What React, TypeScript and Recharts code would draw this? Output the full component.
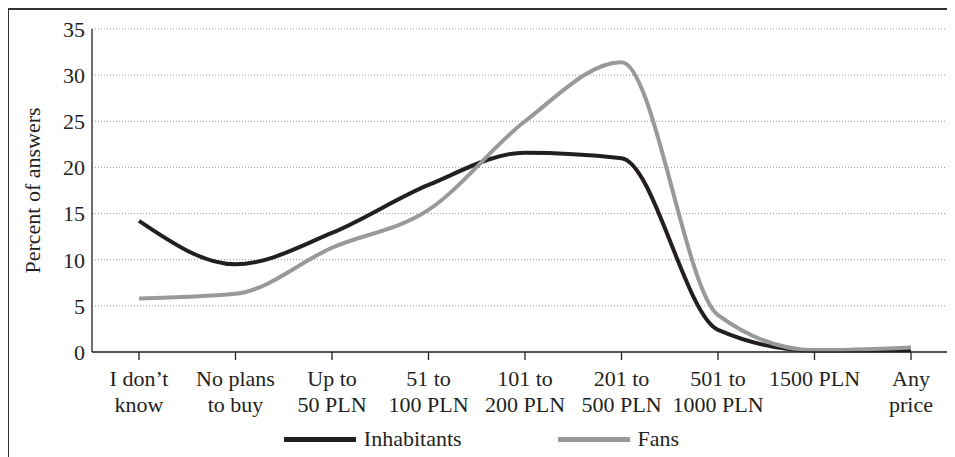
import { CartesianGrid, Legend, Line, LineChart, XAxis, YAxis } from "recharts";

// price categories (two-line labels split on \n)
const categories = [
  "I don’t\nknow",
  "No plans\nto buy",
  "Up to\n50 PLN",
  "51 to\n100 PLN",
  "101 to\n200 PLN",
  "201 to\n500 PLN",
  "501 to\n1000 PLN",
  "1500 PLN",
  "Any\nprice",
];
const inhabitants = [14.2, 9.5, 12.9, 18.1, 21.6, 21.0, 2.4, 0.15, 0.2];
const fans = [5.8, 6.3, 11.3, 15.4, 25.0, 31.4, 4.0, 0.2, 0.5];
const yTicks = [0, 5, 10, 15, 20, 25, 30, 35];

const data = categories.map((name, i) => ({ name, Inhabitants: inhabitants[i], Fans: fans[i] }));

const FONT = "Liberation Serif, DejaVu Serif, serif";

function XTick(props: any) {
  const { x, y, payload } = props;
  const lines = String(payload.value).split("\n");
  return (
    <text x={x} y={y + 24} textAnchor="middle" fill="#231f20" fontFamily={FONT} fontSize={22}>
      {lines.map((l, i) => (
        <tspan key={i} x={x} dy={i === 0 ? 0 : 26}>
          {l}
        </tspan>
      ))}
    </text>
  );
}

function LegendBox() {
  const item = (label: string, color: string, gap: number) => (
    <div style={{ display: "flex", alignItems: "center", marginRight: gap }}>
      <div style={{ width: 72, height: 5, background: color, marginRight: 8 }} />
      <span style={{ fontFamily: FONT, fontSize: 22, color: "#231f20" }}>{label}</span>
    </div>
  );
  return (
    <div style={{ display: "flex", justifyContent: "center", alignItems: "center" }}>
      {item("Inhabitants", "#231f20", 96)}
      {item("Fans", "#98999b", 0)}
    </div>
  );
}

export default function App() {
  return (
    <div style={{ position: "relative", width: 947, height: 449 }}>
      {/* frame: left and top edges only are visible in the picture */}
      <div style={{ position: "absolute", left: -1.5, top: -0.5, width: 2, height: 460, background: "#333" }} />
      <div style={{ position: "absolute", left: -1.5, top: -0.5, width: 960, height: 2, background: "#333" }} />
      <LineChart
        width={947}
        height={449}
        data={data}
        margin={{ top: 21, right: 0, bottom: 0, left: 0 }}
      >
        <CartesianGrid horizontal vertical={false} stroke="#999" strokeDasharray="1 2" />
        <XAxis
          dataKey="name"
          interval={0}
          height={70}
          padding={{ left: 47, right: 44 }}
          tick={<XTick />}
          tickSize={8}
          axisLine={{ stroke: "#231f20", strokeWidth: 1.3 }}
          tickLine={{ stroke: "#231f20", strokeWidth: 1.3 }}
        />
        <YAxis
          domain={[0, 35]}
          ticks={yTicks}
          width={84}
          tickLine={false}
          axisLine={{ stroke: "#231f20", strokeWidth: 1.3 }}
          tick={{ fill: "#231f20", fontFamily: FONT, fontSize: 22 }}
          tickMargin={1}
          label={{
            value: "Percent of answers",
            angle: -90,
            position: "insideLeft",
            offset: 24,
            style: { textAnchor: "middle", fill: "#231f20", fontFamily: FONT, fontSize: 22 },
          }}
        />
        <Legend verticalAlign="bottom" height={35} content={<LegendBox />} wrapperStyle={{ top: 418 }} />
        <Line
          type="monotone"
          dataKey="Inhabitants"
          stroke="#231f20"
          strokeWidth={4}
          dot={false}
          isAnimationActive={false}
        />
        <Line
          type="monotone"
          dataKey="Fans"
          stroke="#98999b"
          strokeWidth={4}
          dot={false}
          isAnimationActive={false}
        />
      </LineChart>
    </div>
  );
}
